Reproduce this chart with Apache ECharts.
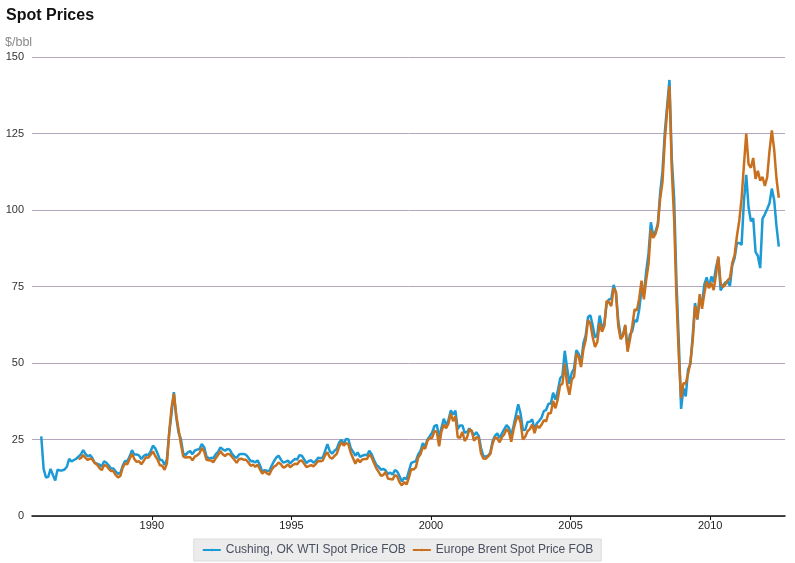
<!DOCTYPE html>
<html lang="en">
  <head>
    <meta charset="UTF-8" />
    <title>Spot Prices</title>
    <script src="https://cdn.jsdelivr.net/npm/echarts@6.0.0/dist/echarts.min.js"></script>
    <style>
      * {
        margin: 0;
        padding: 0;
      }
      html,
      body {
        background: #fff;
      }
    </style>
  </head>
  <body>
    <div id="charts" style="width: 795px; height: 563px"></div>
    <script>
      // monthly values, WTI from Jan 1986, Brent from May 1987
      var wtiStart = [1986, 1];
      var wtiValues = [
        26.0, 15.5, 12.6, 12.8, 15.4, 13.4, 11.6, 15.1, 14.9, 14.9, 15.2, 16.1,
        18.7, 17.8, 18.3, 18.7, 19.4, 20.1, 21.5, 20.3, 19.5, 19.9, 18.9, 17.3,
        17.1, 16.8, 16.2, 17.9, 17.4, 16.5, 15.5, 15.5, 14.5, 13.8, 14.1, 16.4,
        18.0, 17.9, 19.5, 21.5, 20.1, 20.1, 19.8, 18.6, 19.6, 20.1, 19.9, 21.1,
        23.0, 22.1, 20.4, 18.4, 18.2, 16.7, 18.5, 27.3, 33.5, 40.5, 32.3, 27.3,
        25.2, 20.5, 19.9, 20.8, 21.2, 20.2, 21.4, 21.7, 21.9, 23.5, 22.5, 19.5,
        18.8, 19.0, 18.9, 20.2, 21.0, 22.4, 21.8, 21.3, 21.9, 21.7, 20.3, 19.4,
        19.0, 20.1, 20.3, 20.3, 20.0, 19.1, 17.9, 18.0, 17.5, 18.2, 16.6, 14.5,
        15.0, 14.8, 14.7, 16.4, 17.9, 19.1, 19.7, 18.4, 17.5, 17.7, 18.1, 17.2,
        18.0, 18.6, 18.5, 19.9, 19.7, 18.5, 17.3, 18.0, 18.2, 17.4, 18.0, 19.0,
        18.9, 19.1, 21.3, 23.5, 21.2, 20.4, 21.3, 21.9, 24.0, 24.9, 23.7, 25.2,
        25.1, 22.2, 21.0, 19.7, 20.8, 19.3, 19.7, 20.0, 19.8, 21.3, 20.2, 18.3,
        16.7, 16.1, 15.1, 15.4, 14.9, 13.7, 14.2, 13.5, 15.0, 14.5, 13.0, 11.3,
        12.5, 12.0, 14.7, 17.3, 17.7, 17.9, 20.1, 21.3, 23.8, 22.7, 25.0, 26.1,
        27.3, 29.4, 29.8, 25.7, 28.8, 31.8, 29.7, 31.3, 34.5, 33.1, 34.4, 28.4,
        29.6, 29.6, 27.2, 27.5, 28.6, 27.6, 26.4, 27.4, 26.2, 22.2, 19.6, 19.4,
        19.7, 20.7, 24.5, 26.2, 27.0, 25.5, 27.0, 28.4, 29.7, 28.8, 26.4, 29.5,
        33.0, 36.5, 33.5, 28.2, 28.1, 30.7, 30.8, 31.6, 28.3, 30.3, 31.1, 32.1,
        34.3, 34.7, 36.7, 36.8, 40.3, 38.0, 40.8, 44.9, 45.9, 54.0, 48.5, 43.2,
        46.8, 48.2, 54.2, 53.0, 49.8, 56.4, 59.0, 65.0, 65.6, 62.3, 58.3, 59.4,
        65.5, 61.6, 62.7, 69.4, 70.8, 71.0, 75.5, 73.0, 63.8, 58.9, 59.1, 62.0,
        54.5, 59.3, 60.4, 64.0, 63.5, 67.5, 74.1, 72.4, 79.9, 85.8, 96.0, 91.7,
        93.0, 95.4, 105.5, 112.6, 125.4, 134.0, 142.5, 116.7, 104.1, 76.6, 57.3, 35.0,
        41.7, 39.1, 47.9, 49.7, 59.0, 69.6, 64.2, 71.1, 69.4, 75.7, 78.0, 74.5,
        78.3, 76.4, 81.2, 84.3, 73.7, 75.3, 76.3, 76.6, 75.2, 81.9, 84.3, 89.2,
        89.2, 88.6, 102.9, 111.5, 100.9, 96.3, 97.3, 86.3, 85.0, 81.0, 97.2, 98.6,
        100.3, 102.2, 107.0, 103.3, 94.7, 88.0,
      ];
      var brentStart = [1987, 5];
      var brentValues = [
        18.6, 18.9, 19.9, 19.0, 18.3, 18.8, 18.4, 17.3,
        16.8, 15.7, 15.0, 16.6, 16.5, 15.4, 14.7, 14.7, 13.4, 12.6, 13.1, 15.8,
        17.2, 16.9, 18.7, 20.3, 18.6, 17.7, 17.9, 16.9, 18.0, 19.2, 19.0, 20.0,
        21.1, 19.6, 18.4, 16.6, 16.4, 15.1, 17.2, 27.2, 35.5, 40.0, 33.1, 28.3,
        23.6, 19.5, 19.1, 19.2, 19.2, 18.2, 19.4, 19.8, 20.5, 22.2, 21.1, 18.4,
        18.2, 18.1, 17.6, 18.9, 19.9, 21.2, 20.2, 19.6, 20.3, 20.2, 19.3, 18.4,
        17.4, 18.6, 18.7, 18.4, 18.4, 17.5, 16.4, 16.8, 16.1, 16.8, 15.2, 13.8,
        14.7, 13.9, 13.5, 15.1, 16.1, 16.6, 17.5, 16.9, 15.8, 16.1, 16.9, 15.9,
        16.6, 17.1, 16.9, 18.0, 18.1, 17.1, 16.0, 16.3, 16.6, 16.2, 17.0, 18.0,
        17.9, 18.1, 19.9, 20.8, 19.2, 18.7, 19.6, 20.3, 22.6, 24.1, 23.0, 23.8,
        23.5, 20.7, 18.9, 17.1, 18.6, 17.6, 18.5, 18.6, 18.6, 20.2, 19.2, 17.3,
        15.6, 14.4, 13.1, 13.4, 14.4, 12.2, 12.1, 11.9, 13.4, 12.9, 11.0, 10.0,
        11.1, 10.3, 12.5, 15.3, 15.2, 15.9, 19.1, 20.2, 22.5, 22.0, 24.6, 25.5,
        25.5, 27.8, 27.5, 22.8, 27.7, 29.8, 28.7, 30.2, 33.5, 31.0, 32.6, 25.7,
        25.6, 27.5, 24.5, 25.7, 28.3, 27.9, 24.6, 25.7, 25.6, 20.5, 18.8, 18.7,
        19.4, 20.3, 23.7, 25.7, 25.4, 24.1, 25.7, 26.7, 28.4, 27.5, 24.3, 28.3,
        31.2, 32.8, 30.6, 25.0, 25.9, 27.7, 28.4, 29.9, 27.1, 29.6, 28.8, 29.8,
        31.3, 30.9, 33.6, 33.6, 37.6, 35.2, 38.2, 42.7, 43.2, 49.8, 43.1, 39.6,
        44.5, 45.5, 53.1, 51.9, 48.7, 54.4, 57.5, 64.0, 62.9, 58.5, 55.2, 56.9,
        63.0, 60.2, 62.1, 70.3, 69.8, 68.6, 74.5, 73.2, 62.0, 57.8, 58.8, 62.5,
        53.7, 57.6, 62.1, 67.5, 67.2, 71.1, 76.9, 70.8, 77.2, 82.3, 93.5, 90.9,
        92.2, 95.0, 103.6, 109.1, 122.8, 132.3, 140.5, 113.2, 97.2, 71.6, 52.5, 38.5,
        43.4, 43.3, 46.5, 50.2, 57.3, 68.6, 64.4, 72.5, 67.7, 72.8, 76.7, 74.5,
        76.2, 73.8, 78.8, 84.8, 76.0, 74.8, 75.6, 77.0, 77.8, 82.7, 85.3, 91.5,
        96.5, 103.7, 114.6, 125.0, 115.0, 113.8, 117.0, 110.2, 112.8, 109.6, 110.8, 107.9,
        110.7, 119.3, 126.0, 119.8, 110.3, 104.0,
      ];
      var yearLabels = [1990, 1995, 2000, 2005, 2010];

      // month index -> fractional year (middle of the month)
      function toSeries(start, values) {
        return values.map(function (v, i) {
          var m = start[1] - 1 + i;
          return [start[0] + (m + 0.5) / 12, v];
        });
      }

      var myEcharts = echarts.init(document.getElementById("charts"));
      var options = {
        animation: false,
        textStyle: { fontFamily: "Liberation Sans, Arial, sans-serif" },
        title: [
          {
            text: "Spot Prices",
            left: 6,
            top: 8,
            padding: 0,
            textStyle: { fontSize: 16, fontWeight: "bold", color: "#111" },
          },
          {
            text: "$/bbl",
            left: 5,
            top: 36,
            padding: 0,
            textStyle: { fontSize: 12.5, fontWeight: "normal", color: "#8a8a8a" },
          },
        ],
        grid: { left: 32, right: 10, top: 57, bottom: 47, outerBoundsMode: "none" },
        legend: {
          bottom: 2,
          left: "center",
          itemWidth: 18,
          itemHeight: 3,
          itemGap: 6,
          padding: [5, 8],
          backgroundColor: "#ececec",
          borderColor: "#dcdcdc",
          borderWidth: 1,
          textStyle: { fontSize: 12, color: "#4a5060" },
        },
        xAxis: {
          type: "value",
          min: 1985.71,
          max: 2012.68,
          axisLine: { lineStyle: { color: "#111", width: 1.5 } },
          axisTick: {
            show: true,
            length: 4,
            lineStyle: { color: "#111" },
            customValues: yearLabels,
          },
          axisLabel: {
            color: "#222",
            fontSize: 11,
            margin: 4,
            customValues: yearLabels,
            formatter: function (v) {
              return String(Math.round(v));
            },
          },
          splitLine: { show: false },
        },
        yAxis: {
          type: "value",
          min: 0,
          max: 150,
          interval: 25,
          axisLine: { show: false },
          axisTick: { show: false },
          axisLabel: { color: "#333", fontSize: 11, margin: 8 },
          splitLine: { lineStyle: { color: "#b4a6bc", width: 1 } },
        },
        series: [
          {
            name: "Cushing, OK WTI Spot Price FOB",
            type: "line",
            symbol: "none",
            data: toSeries(wtiStart, wtiValues),
            lineStyle: { color: "#1b9ad6", width: 2.5 },
            itemStyle: { color: "#1b9ad6" },
          },
          {
            name: "Europe Brent Spot Price FOB",
            type: "line",
            symbol: "none",
            data: toSeries(brentStart, brentValues),
            lineStyle: { color: "#c8701e", width: 2.5 },
            itemStyle: { color: "#c8701e" },
          },
        ],
      };
      myEcharts.setOption(options);
    </script>
  </body>
</html>
